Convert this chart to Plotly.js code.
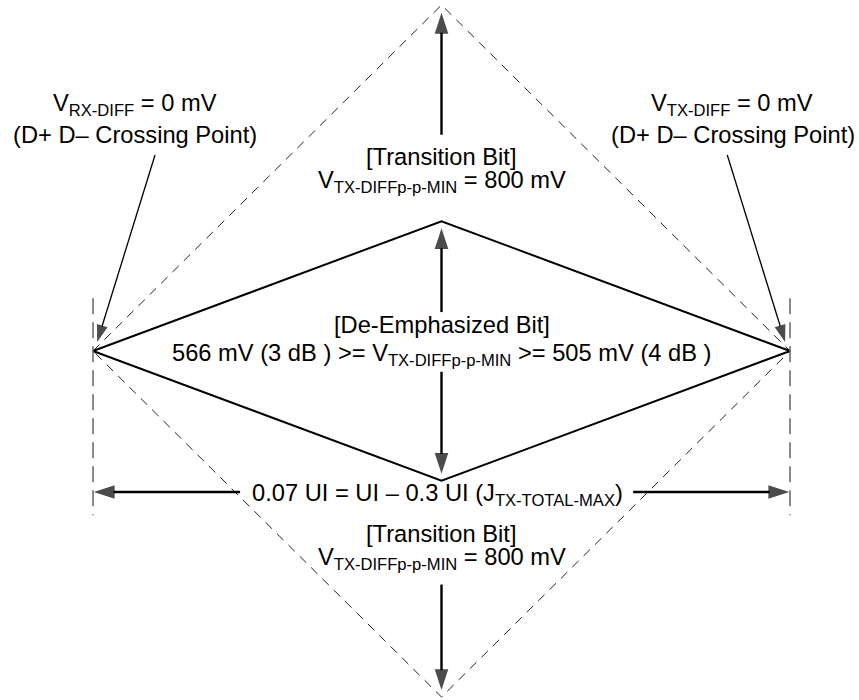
<!DOCTYPE html>
<html><head><meta charset="utf-8">
<script src="https://cdn.plot.ly/plotly-3.0.1.min.js"></script>
<style>html,body{margin:0;padding:0;background:#fff}</style>
</head><body><div id="chart" style="width:859px;height:700px"></div>
<script>
// Time axis in UI (0 = left crossing, 1 = right crossing), voltage in mV
const eyeX = [0, 0.5, 1, 0.5, 0];
const transitionEyeY = [0, 400, 0, -400, 0];
const deemphEyeY = [0, 150, 0, -150, 0];
const boundaryX = [0, 1];
const boundaryY = [61, -190];

const arrowTailX = [0.5, 0.5, 0.5, 0.5, 0.211, 0.775, 0.089, 0.910];
const arrowTailY = [250, 45, -24, -270, -163, -163, 226.6, 226.6];
const arrowHeadX = [0.5, 0.5, 0.5, 0.5, 0.001, 0.999, 0.006, 0.993];
const arrowHeadY = [391, 142, -142, -392, -163, -163, 10.4, 10.4];

const labelText = [
  "V<sub>RX-DIFF</sub> = 0 mV",
  "(D+ D\u2013 Crossing Point)",
  "V<sub>TX-DIFF</sub> = 0 mV",
  "(D+ D\u2013 Crossing Point)",
  "[Transition Bit]",
  "V<sub>TX-DIFFp-p-MIN</sub> = 800 mV",
  "[De-Emphasized Bit]",
  "566 mV (3 dB ) >= V<sub>TX-DIFFp-p-MIN</sub> >= 505 mV (4 dB )",
  "0.07 UI = UI \u2013 0.3 UI (J<sub>TX-TOTAL-MAX</sub>)",
  "[Transition Bit]",
  "V<sub>TX-DIFFp-p-MIN</sub> = 800 mV"
];
const labelX = [0.060, 0.060, 0.917, 0.918, 0.5, 0.5, 0.5, 0.5, 0.494, 0.5, 0.5];
const labelY = [284.4, 249.7, 284.4, 249.7, 224.3, 195.4, 30.1, -4.6, -166.5, -211.6, -240.5];

const traces = [];
traces.push({x: eyeX, y: transitionEyeY, mode: 'lines', hoverinfo: 'skip',
  line: {color: '#222', width: 1, dash: '9px,7px'}});
traces.push({x: eyeX, y: deemphEyeY, mode: 'lines', hoverinfo: 'skip',
  line: {color: '#000', width: 2}});
boundaryX.forEach(function (bx) {
  traces.push({x: [bx, bx], y: boundaryY, mode: 'lines', hoverinfo: 'skip',
    line: {color: '#666', width: 1.5, dash: '16px,8px'}});
});
for (let i = 0; i < arrowTailX.length; i++) {
  const diag = i >= 6;
  traces.push({
    x: [arrowTailX[i], arrowHeadX[i]], y: [arrowTailY[i], arrowHeadY[i]],
    mode: 'lines+markers', hoverinfo: 'skip',
    line: {color: '#000', width: diag ? 1.3 : 2.4},
    marker: {symbol: ['circle', 'arrow'], size: [0, diag ? 18 : 22], angleref: 'previous',
      color: '#000', line: {width: 0}}
  });
}

const annotations = labelText.map(function (t, i) {
  return {x: labelX[i], y: labelY[i], xref: 'x', yref: 'y', text: t, showarrow: false,
    xanchor: 'center', yanchor: 'middle',
    font: {family: 'Liberation Sans, Arial, sans-serif', size: 23.7, color: '#000'}};
});

const layout = {
  width: 859, height: 700,
  margin: {l: 0, r: 0, t: 0, b: 0},
  paper_bgcolor: '#fff', plot_bgcolor: '#fff',
  showlegend: false,
  xaxis: {range: [-0.13343, 1.09900], visible: false, fixedrange: true},
  yaxis: {range: [-403.47, 405.78], visible: false, fixedrange: true},
  annotations: annotations
};
Plotly.newPlot('chart', traces, layout, {displayModeBar: false, staticPlot: true});
</script>
</body></html>
